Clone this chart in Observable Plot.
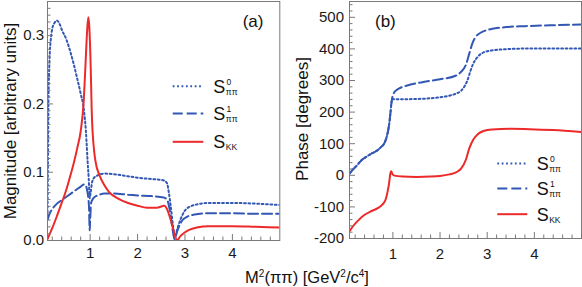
<!DOCTYPE html>
<html><head><meta charset="utf-8">
<script src="https://cdn.jsdelivr.net/npm/d3@7"></script>
<script src="https://cdn.jsdelivr.net/npm/@observablehq/plot@0.6"></script>
<style>
html,body{margin:0;padding:0;background:#fff;}
#wrap{position:relative;width:582px;height:287px;overflow:hidden;}
#wrap > svg{position:absolute;top:0;}
</style></head><body><div id="wrap"></div>
<script>
// ---------- Magnitude (panel a) ----------
const magS0x = [0.10,0.11,0.12,0.14,0.17,0.20,0.25,0.30,0.35,0.40,0.50,0.60,0.70,0.80,0.87,0.91,0.945,0.97,0.99,1.01,1.04,1.085,1.15,1.30,1.50,1.80,2.00,2.30,2.55,2.62,2.66,2.70,2.75,2.79,2.82,2.88,2.95,3.00,3.20,3.50,4.00,4.50,5.00];
const magS0y = [0.035,0.12,0.20,0.26,0.295,0.31,0.319,0.322,0.318,0.309,0.294,0.272,0.245,0.215,0.19,0.16,0.117,0.09,0.062,0.07,0.085,0.092,0.095,0.098,0.097,0.094,0.092,0.090,0.088,0.084,0.07,0.05,0.02,0.002,0.012,0.026,0.038,0.044,0.052,0.055,0.055,0.054,0.052];

const magS1x = [0.10,0.15,0.20,0.30,0.40,0.50,0.60,0.70,0.80,0.87,0.91,0.945,0.975,0.99,1.00,1.02,1.05,1.10,1.16,1.30,1.50,1.80,2.00,2.30,2.55,2.62,2.67,2.72,2.78,2.81,2.87,2.95,3.05,3.20,3.50,4.00,4.50,5.00];
const magS1y = [0.03,0.04,0.046,0.054,0.059,0.064,0.069,0.074,0.079,0.082,0.08,0.07,0.05,0.015,0.03,0.055,0.06,0.064,0.066,0.069,0.069,0.067,0.066,0.065,0.063,0.06,0.048,0.025,0.002,0.008,0.02,0.03,0.035,0.038,0.04,0.04,0.039,0.039];

const magKKx = [0.10,0.20,0.30,0.40,0.50,0.59,0.66,0.73,0.80,0.86,0.90,0.935,0.96,0.98,1.005,1.04,1.11,1.20,1.30,1.40,1.60,1.80,2.00,2.20,2.40,2.57,2.62,2.70,2.77,2.83,2.90,3.00,3.10,3.25,3.50,4.00,4.50,5.00];
const magKKy = [0.002,0.018,0.036,0.055,0.075,0.097,0.115,0.136,0.16,0.2,0.255,0.306,0.327,0.315,0.27,0.175,0.117,0.095,0.081,0.071,0.061,0.055,0.051,0.048,0.048,0.051,0.046,0.03,0.012,0.0,0.006,0.012,0.016,0.019,0.021,0.021,0.02,0.019];

// ---------- Phase (panel b) ----------
const phS0x = [0.08,0.15,0.23,0.33,0.44,0.55,0.65,0.74,0.82,0.88,0.92,0.95,0.97,0.99,1.02,1.30,1.60,2.00,2.20,2.33,2.45,2.52,2.58,2.64,2.70,2.80,2.90,3.05,3.40,3.80,5.00];
const phS0y = [5,18,30,47,59,69,77,88,102,128,160,200,230,243,241,241,242,247,252,258,268,282,300,328,352,375,387,394,399,401,401];

const phS1x = [0.08,0.15,0.23,0.33,0.44,0.55,0.65,0.74,0.82,0.88,0.92,0.95,0.97,0.99,1.02,1.08,1.16,1.30,1.60,2.00,2.33,2.45,2.55,2.62,2.68,2.75,2.86,3.04,3.40,3.80,4.40,5.00];
const phS1y = [5,18,30,47,59,69,77,88,102,128,160,200,230,248,260,270,277,284,294,304,315,328,350,385,415,437,451,461,469,472,475,477];

const phKKx = [0.08,0.15,0.25,0.40,0.55,0.68,0.78,0.85,0.89,0.92,0.945,0.96,0.975,0.99,1.03,1.20,1.50,1.80,2.00,2.20,2.35,2.45,2.55,2.62,2.70,2.80,2.92,3.10,3.50,3.90,4.40,5.00];
const phKKy = [-177,-162,-145,-125,-113,-104,-92,-75,-50,-25,5,13,10,4,-1,-4,-5,-4,-2,3,10,22,50,85,112,130,140,145,147,146,143,137];

// ---------- ticks & labels ----------
const xMajor = [1,2,3,4];
const xMinor = d3.range(1,25).map(i => i*0.2).filter(v => Math.abs(v - Math.round(v)) > 1e-6);
const magMajor = [0,0.1,0.2,0.3];
const magMinor = d3.range(1,35).map(i => i/100).filter(v => Math.abs(v*10 - Math.round(v*10)) > 1e-6);
const phMajor = [-200,-100,0,100,200,300,400,500];
const phMinor = d3.range(-180,550,20).filter(v => v % 100 !== 0);
const seriesNames = ["S0","S1","KK"];
const legendSup = ["0","1",""];
const legendSub = ["ππ","ππ","KK"];

const FONT = '"Liberation Sans", Arial, Helvetica, sans-serif';
const BLUE = "#3357b4", RED = "#ec2a2a", FRAME = "#7a7a7a";
const styles = {
  S0: {stroke: BLUE, strokeWidth: 2, strokeDasharray: "1.8,2.6"},
  S1: {stroke: BLUE, strokeWidth: 2, strokeDasharray: "10,4"},
  KK: {stroke: RED, strokeWidth: 2}
};
const rows = (xs, ys) => xs.map((x, i) => ({x, y: ys[i]}));

function panel(o) {
  const lines = o.series.map(([xs, ys, k]) =>
    Plot.line(rows(xs, ys), {x: "x", y: "y", curve: "monotone-x", clip: true, ...styles[k]}));
  return Plot.plot({
    width: o.width, height: 287,
    marginLeft: o.ml, marginRight: o.mr, marginTop: 1, marginBottom: o.mb,
    x: {domain: o.xDomain},
    y: {domain: o.yDomain},
    style: {fontFamily: FONT, fontSize: "15px", color: "#1a1a1a", background: "transparent", overflow: "visible"},
    marks: [
      ...lines,
      Plot.frame({stroke: FRAME}),
      Plot.axisX({ticks: xMajor, tickSize: 6, dy: -6, stroke: FRAME, fill: "none", label: null}),
      Plot.axisX({ticks: xMinor, tickSize: 3.5, dy: -3.5, stroke: FRAME, fill: "none", label: null}),
      Plot.axisX({ticks: xMajor, tickSize: 0, tickPadding: o.xPad, tickFormat: d => String(d), label: null}),
      Plot.axisY({ticks: o.yMajor, tickSize: 6, dx: 6, stroke: FRAME, fill: "none", label: null}),
      Plot.axisY({ticks: o.yMinor, tickSize: 3.5, dx: 3.5, stroke: FRAME, fill: "none", label: null}),
      Plot.axisY({ticks: o.yMajor, tickSize: 0, tickPadding: o.yPad, tickFormat: o.yFormat, label: null})
    ]
  });
}

const wrap = document.getElementById("wrap");
const left = panel({width: 290, ml: 47, mr: 10.7, mb: 47, xDomain: [0.1, 5.0], yDomain: [0, 0.35],
  yMajor: magMajor, yMinor: magMinor, yFormat: d => d.toFixed(1), yPad: 3.3, xPad: 7.2,
  series: [[magS0x, magS0y, "S0"], [magS1x, magS1y, "S1"], [magKKx, magKKy, "KK"]]});
left.style.left = "0px";
wrap.appendChild(left);
const right = panel({width: 292, ml: 59, mr: 1, mb: 49, xDomain: [0.08, 5.0], yDomain: [-200, 550],
  yMajor: phMajor, yMinor: phMinor, yFormat: d => String(d), yPad: 5.5, xPad: 9.5,
  series: [[phS0x, phS0y, "S0"], [phS1x, phS1y, "S1"], [phKKx, phKKy, "KK"]]});
right.style.left = "290px";
wrap.appendChild(right);

// ---------- overlay: titles, panel labels, legends ----------
const ov = d3.select(wrap).append("svg")
  .attr("width", 582).attr("height", 287)
  .style("left", "0px").style("pointer-events", "none")
  .attr("font-family", FONT).attr("fill", "#111");

ov.append("text").attr("transform", "translate(15.5,121) rotate(-90)")
  .attr("text-anchor", "middle").attr("font-size", 17).text("Magnitude [arbitrary units]");
ov.append("text").attr("transform", "translate(308,119) rotate(-90)")
  .attr("text-anchor", "middle").attr("font-size", 17).text("Phase [degrees]");

const xt = ov.append("text").attr("x", 307).attr("y", 283).attr("text-anchor", "middle").attr("font-size", 16.5);
xt.append("tspan").text("M");
xt.append("tspan").attr("font-size", 10).attr("dy", -6).text("2");
xt.append("tspan").attr("dy", 6).text("(ππ) [GeV");
xt.append("tspan").attr("font-size", 10).attr("dy", -6).text("2");
xt.append("tspan").attr("dy", 6).text("/c");
xt.append("tspan").attr("font-size", 10).attr("dy", -6).text("4");
xt.append("tspan").attr("dy", 6).text("]");

ov.append("text").attr("x", 242.7).attr("y", 27).attr("font-size", 17).text("(a)");
ov.append("text").attr("x", 375).attr("y", 27).attr("font-size", 17).text("(b)");

function legend(x1, x2, tx, baselines) {
  seriesNames.forEach((k, i) => {
    const b = baselines[i];
    const st = styles[k];
    ov.append("line").attr("x1", x1).attr("x2", x2).attr("y1", b - 6.5).attr("y2", b - 6.5)
      .attr("stroke", st.stroke).attr("stroke-width", st.strokeWidth)
      .attr("stroke-dasharray", st.strokeDasharray || null);
    ov.append("text").attr("x", tx).attr("y", b).attr("font-size", 18).text("S");
    if (legendSup[i]) ov.append("text").attr("x", tx + 13.2).attr("y", b - 7.8).attr("font-size", 8.5).text(legendSup[i]);
    ov.append("text").attr("x", tx + 12.5).attr("y", b + 1.8).attr("font-size", 8.5).text(legendSub[i]);
  });
}
legend(172.7, 203.3, 213.3, [92.7, 120, 148.3]);
legend(497.3, 527.3, 536.7, [170, 195, 220.7]);
</script></body></html>
